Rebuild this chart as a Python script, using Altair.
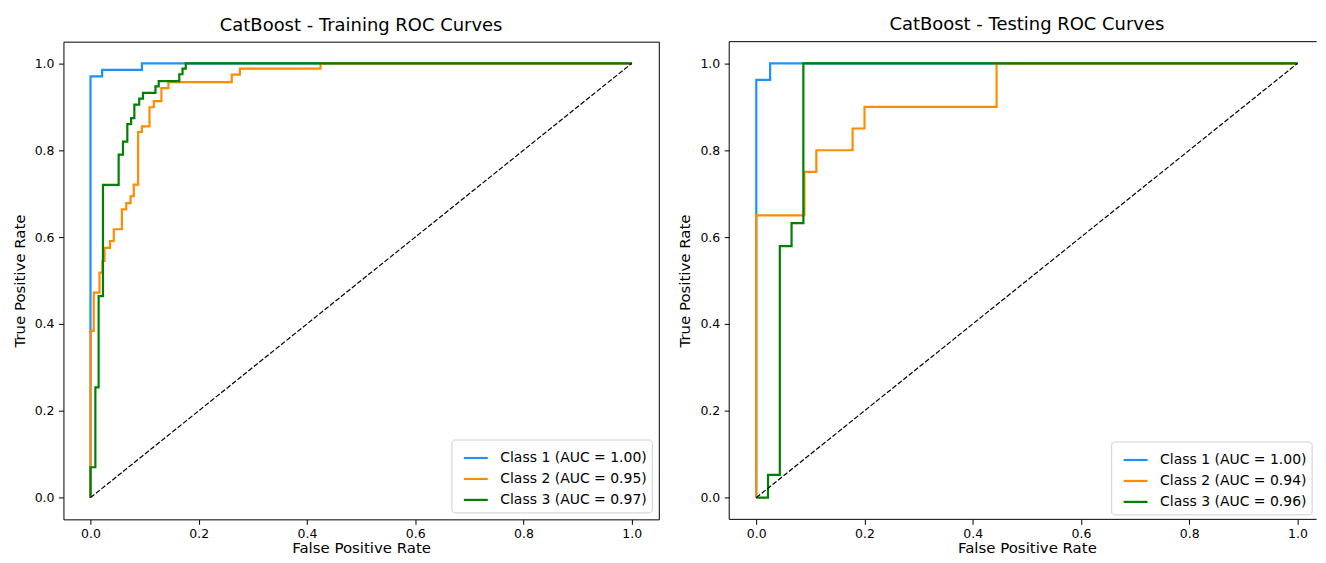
import altair as alt
import pandas as pd

# ---------------- data ----------------
train_labels = ["Class 1 (AUC = 1.00)", "Class 2 (AUC = 0.95)", "Class 3 (AUC = 0.97)"]
test_labels = ["Class 1 (AUC = 1.00)", "Class 2 (AUC = 0.94)", "Class 3 (AUC = 0.96)"]
colors = ["#1E90FF", "#FF8C00", "#008000"]

train_c1_fpr = [0, 0, 0.0215, 0.0215, 0.095, 0.095, 1]
train_c1_tpr = [0, 0.97, 0.97, 0.985, 0.985, 1, 1]

train_c2_fpr = [0, 0, 0.006, 0.006, 0.0166, 0.0166, 0.022, 0.022, 0.026, 0.026, 0.036, 0.036,
                0.043, 0.043, 0.058, 0.058, 0.066, 0.066, 0.074, 0.074, 0.080, 0.080, 0.088, 0.088,
                0.095, 0.095, 0.109, 0.109, 0.117, 0.117, 0.131, 0.131, 0.144, 0.144, 0.261, 0.261,
                0.276, 0.276, 0.425, 0.425, 1]
train_c2_tpr = [0, 0.384, 0.384, 0.472, 0.472, 0.518, 0.518, 0.545, 0.545, 0.575, 0.575, 0.591,
                0.591, 0.618, 0.618, 0.664, 0.664, 0.678, 0.678, 0.694, 0.694, 0.721, 0.721, 0.842,
                0.842, 0.855, 0.855, 0.899, 0.899, 0.913, 0.913, 0.943, 0.943, 0.957, 0.957, 0.974,
                0.974, 0.988, 0.988, 1, 1]

train_c3_fpr = [0, 0, 0.009, 0.009, 0.015, 0.015, 0.023, 0.023, 0.052, 0.052, 0.060, 0.060,
                0.068, 0.068, 0.075, 0.075, 0.081, 0.081, 0.090, 0.090, 0.097, 0.097, 0.120, 0.120,
                0.126, 0.126, 0.164, 0.164, 0.170, 0.170, 0.176, 0.176, 1]
train_c3_tpr = [0, 0.07, 0.07, 0.254, 0.254, 0.464, 0.464, 0.72, 0.72, 0.79, 0.79, 0.82,
                0.82, 0.86, 0.86, 0.874, 0.874, 0.905, 0.905, 0.919, 0.919, 0.932, 0.932, 0.947,
                0.947, 0.959, 0.959, 0.975, 0.975, 0.988, 0.988, 1, 1]

test_c1_fpr = [0, 0, 0.0256, 0.0256, 1]
test_c1_tpr = [0, 0.962, 0.962, 1, 1]

test_c2_fpr = [0, 0, 0.0889, 0.0889, 0.111, 0.111, 0.178, 0.178, 0.2, 0.2, 0.444, 0.444, 1]
test_c2_tpr = [0, 0.65, 0.65, 0.75, 0.75, 0.8, 0.8, 0.85, 0.85, 0.9, 0.9, 1, 1]

test_c3_fpr = [0, 0.0217, 0.0217, 0.0435, 0.0435, 0.0652, 0.0652, 0.087, 0.087, 1]
test_c3_tpr = [0, 0, 0.0526, 0.0526, 0.579, 0.579, 0.632, 0.632, 1, 1]

diag_x = [0, 1]
diag_y = [0, 1]

tick_vals = [0.0, 0.2, 0.4, 0.6, 0.8, 1.0]

FONT = "DejaVu Sans"
H = 479


def build_df(labels, fprs, tprs):
    rows = []
    for k, (lab, f, t) in enumerate(zip(labels, fprs, tprs)):
        for i, (a, b) in enumerate(zip(f, t)):
            rows.append({"series": lab, "k": k, "i": i, "fpr": a, "tpr": b})
    return pd.DataFrame(rows)


def panel(title, labels, fprs, tprs, width, xmax, legend_offset, open_right, shift):
    df = build_df(labels, fprs, tprs)
    xs = alt.Scale(domain=[-0.05, xmax], nice=False, zero=False)
    ys = alt.Scale(domain=[-0.05, 1.05], nice=False, zero=False)
    xax = alt.Axis(values=tick_vals, format=".1f", title="False Positive Rate",
                   titleX=width / 2 + shift)
    yax = alt.Axis(values=tick_vals, format=".1f", title="True Positive Rate")
    layers = []
    for k, lab in enumerate(labels):
        sub = df[df["k"] == k]
        layers.append(
            alt.Chart(sub).mark_line(strokeWidth=2.2, clip=True).encode(
                x=alt.X("fpr:Q", scale=xs, axis=xax),
                y=alt.Y("tpr:Q", scale=ys, axis=yax),
                order="i:Q",
                color=alt.Color(
                    "series:N",
                    scale=alt.Scale(domain=labels, range=colors),
                    legend=alt.Legend(
                        title=None,
                        orient="bottom-right",
                        offset=legend_offset,
                        symbolType="stroke",
                        symbolSize=576,
                        symbolStrokeWidth=2.2,
                        symbolOffset=6,
                        labelFontSize=14,
                        labelFont=FONT,
                        labelColor="black",
                        rowPadding=-2,
                        padding=5,
                        labelOffset=11,
                        fillColor="white",
                        strokeColor="#d0d0d0",
                        cornerRadius=3,
                    ),
                ),
            )
        )
    diag = alt.Chart(pd.DataFrame({"x": diag_x, "y": diag_y})).mark_line(
        color="black", strokeWidth=1.2, strokeDash=[5, 2]
    ).encode(
        x=alt.X("x:Q", scale=xs, axis=xax),
        y=alt.Y("y:Q", scale=ys, axis=yax),
    )
    parts = layers + [diag]
    if open_right:
        base = alt.Chart(pd.DataFrame({"a": [0]}))
        parts.append(base.mark_rule(color="black", strokeWidth=1).encode(
            x=alt.value(0), x2=alt.value(width), y=alt.value(0)))
        parts.append(base.mark_rule(color="black", strokeWidth=1).encode(
            x=alt.value(0), x2=alt.value(width), y=alt.value(H)))
        parts.append(base.mark_rule(color="black", strokeWidth=1).encode(
            x=alt.value(0), y=alt.value(0), y2=alt.value(H)))
    ch = alt.layer(*parts).properties(
        width=width,
        height=H,
        title=alt.TitleParams(title, fontSize=18, font=FONT, fontWeight="normal",
                              color="black", offset=7, dx=shift),
    )
    if open_right:
        ch = ch.properties(view=alt.ViewBackground(stroke="transparent"))
    return ch


left = panel("CatBoost - Training ROC Curves", train_labels,
             [train_c1_fpr, train_c2_fpr, train_c3_fpr],
             [train_c1_tpr, train_c2_tpr, train_c3_tpr],
             width=597, xmax=1.05, legend_offset=7, open_right=False, shift=0)
right = panel("CatBoost - Testing ROC Curves", test_labels,
              [test_c1_fpr, test_c2_fpr, test_c3_fpr],
              [test_c1_tpr, test_c2_tpr, test_c3_tpr],
              width=589, xmax=1.0353, legend_offset=5, open_right=True, shift=4)

chart = alt.hconcat(left, right, spacing=17.6).resolve_scale(color="independent").resolve_legend(
    color="independent"
).properties(
    padding={"left": 3.6, "top": 7, "right": 0, "bottom": 0}
).configure_view(
    stroke="black", strokeWidth=1
).configure_axis(
    grid=False,
    domain=False,
    tickColor="black",
    tickSize=5,
    tickWidth=1,
    labelFont=FONT,
    labelFontSize=12.5,
    labelColor="black",
    titleFont=FONT,
    titleFontSize=15,
    titleFontWeight="normal",
    titleColor="black",
).configure_axisY(
    labelPadding=4.5,
    minExtent=30,
    maxExtent=30,
    titlePadding=6.4,
).configure_axisX(
    labelPadding=3.5,
    minExtent=21,
    maxExtent=21,
    titlePadding=0,
)

chart.save("out.html", embed_options={"renderer": "svg", "actions": False})
